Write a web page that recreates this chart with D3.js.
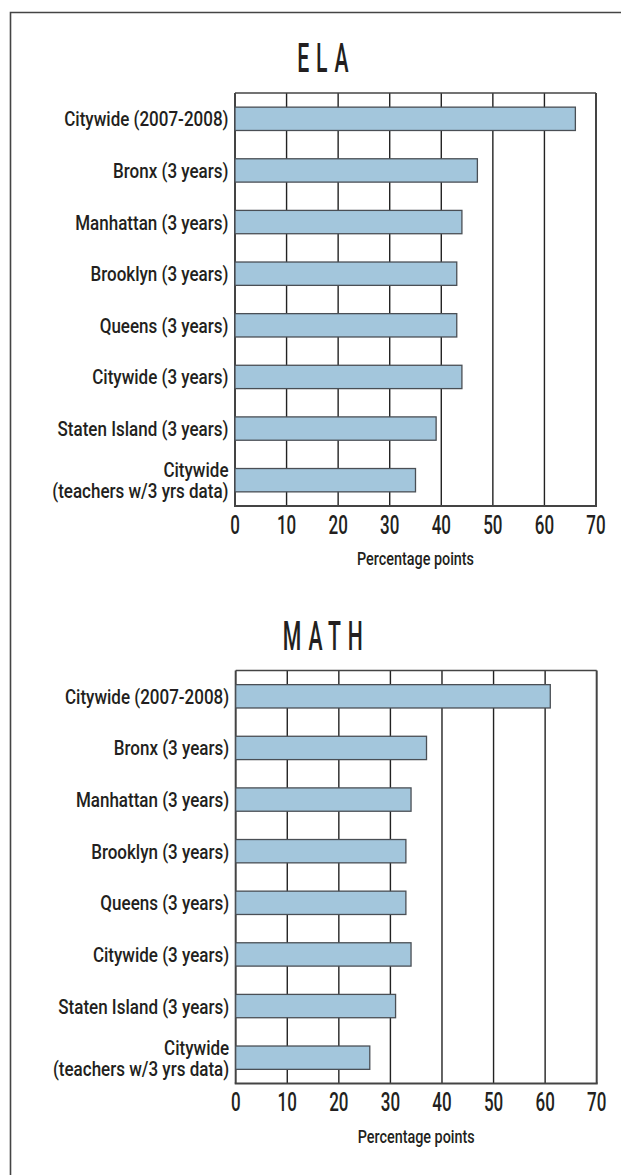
<!DOCTYPE html>
<html>
<head>
<meta charset="utf-8">
<script src="https://cdn.jsdelivr.net/npm/d3@7"></script>
<style>
  body { margin: 0; background: #fff; }
  text { font-family: Roboto, "Liberation Sans", sans-serif; fill: #231f20; font-weight: 500; }
</style>
</head>
<body>
<svg></svg>
<script>

var categories = [
  ["Citywide (2007-2008)"],
  ["Bronx (3 years)"],
  ["Manhattan (3 years)"],
  ["Brooklyn (3 years)"],
  ["Queens (3 years)"],
  ["Citywide (3 years)"],
  ["Staten Island (3 years)"],
  ["Citywide", "(teachers w/3 yrs data)"]
]
var elaValues = [66, 47, 44, 43, 43, 44, 39, 35]
var mathValues = [61, 37, 34, 33, 33, 34, 31, 26]
var xTicks = [0, 10, 20, 30, 40, 50, 60, 70]
var axisTitle = "Percentage points"

var width = 621
var height = 1175

var svg = d3.select('svg')
            .attr('width', width)
            .attr('height', height)

// outer frame (top and left edges only, the rest is cropped)
svg.append('path')
   .attr('d', 'M10.5,' + height + 'V12.5H' + width)
   .attr('fill', 'none')
   .attr('stroke', '#444')
   .attr('stroke-width', 1.6)

// the original type is a narrow face, so squeeze text sideways
var squeeze = function(sel, x, y, sx){
  return sel.attr('transform', 'translate(' + x + ',' + y + ') scale(' + sx + ',1)')
}

//draws one panel: title, grid box, bars, labels
var drawPanel = function(title, values, top, left){

  var plotH = 413
  var xScale = d3.scaleLinear()
                 .domain([0, 70])
                 .range([left, left + 361])

  var yScale = d3.scaleBand()
                 .domain(d3.range(categories.length))
                 .range([top, top + plotH])
                 .paddingInner(0.548)
                 .paddingOuter(0.274)

  var g = svg.append('g')

  squeeze(g.append('text'), 322.8 + 3.5, top - 21, 0.53)
   .attr('text-anchor', 'middle')
   .style('font-size', '40px')
   .style('letter-spacing', '13px')
   .text(title)

  // vertical grid lines
  g.selectAll('line.grid')
   .data(xTicks)
   .enter()
   .append('line')
   .attr('class', 'grid')
   .attr('x1', function(d){return xScale(d)})
   .attr('x2', function(d){return xScale(d)})
   .attr('y1', top)
   .attr('y2', top + plotH)
   .attr('stroke', function(d){return (d == 0 || d == 70) ? '#444' : '#222'})
   .attr('stroke-width', function(d){return (d == 0 || d == 70) ? 2 : 1.4})

  // top and bottom edges
  g.append('line')
   .attr('x1', xScale(0)).attr('x2', xScale(70))
   .attr('y1', top).attr('y2', top)
   .attr('stroke', '#444').attr('stroke-width', 1.4)
  g.append('line')
   .attr('x1', xScale(0) - 1).attr('x2', xScale(70) + 1)
   .attr('y1', top + plotH).attr('y2', top + plotH)
   .attr('stroke', '#444').attr('stroke-width', 2)

  g.selectAll('rect.bar')
   .data(values)
   .enter()
   .append('rect')
   .attr('class', 'bar')
   .attr('x', xScale(0))
   .attr('y', function(d, i){return yScale(i)})
   .attr('width', function(d){return xScale(d) - xScale(0)})
   .attr('height', yScale.bandwidth())
   .attr('fill', '#a3c6dc')
   .attr('stroke', '#4a4f55')
   .attr('stroke-width', 1.3)

  // category labels, one text per label (tspans for wrapped ones)
  categories.forEach(function(lines, i){
    var cy = yScale(i) + yScale.bandwidth() / 2
    var t = squeeze(g.append('text'), xScale(0) - 6.5, cy, 0.83)
              .attr('text-anchor', 'end')
              .style('font-size', '20.5px')
    lines.forEach(function(line, j){
      var off = (j - (lines.length - 1) / 2) * 21
      t.append('tspan')
       .attr('x', 0)
       .attr('y', off + 7.5)
       .text(line)
    })
  })

  // tick labels
  g.selectAll('text.tick')
   .data(xTicks)
   .enter()
   .append('text')
   .attr('class', 'tick')
   .attr('transform', function(d){return 'translate(' + xScale(d) + ',' + (top + plotH + 27.5) + ') scale(0.68,1)'})
   .attr('text-anchor', 'middle')
   .style('font-size', '25px')
   .text(function(d){return d})

  squeeze(g.append('text'), (xScale(0) + xScale(70)) / 2, top + plotH + 59, 0.8)
   .attr('text-anchor', 'middle')
   .style('font-size', '18px')
   .text(axisTitle)
}

drawPanel('ELA', elaValues, 93, 235)
drawPanel('MATH', mathValues, 670.5, 235.7)

</script>
</body>
</html>
